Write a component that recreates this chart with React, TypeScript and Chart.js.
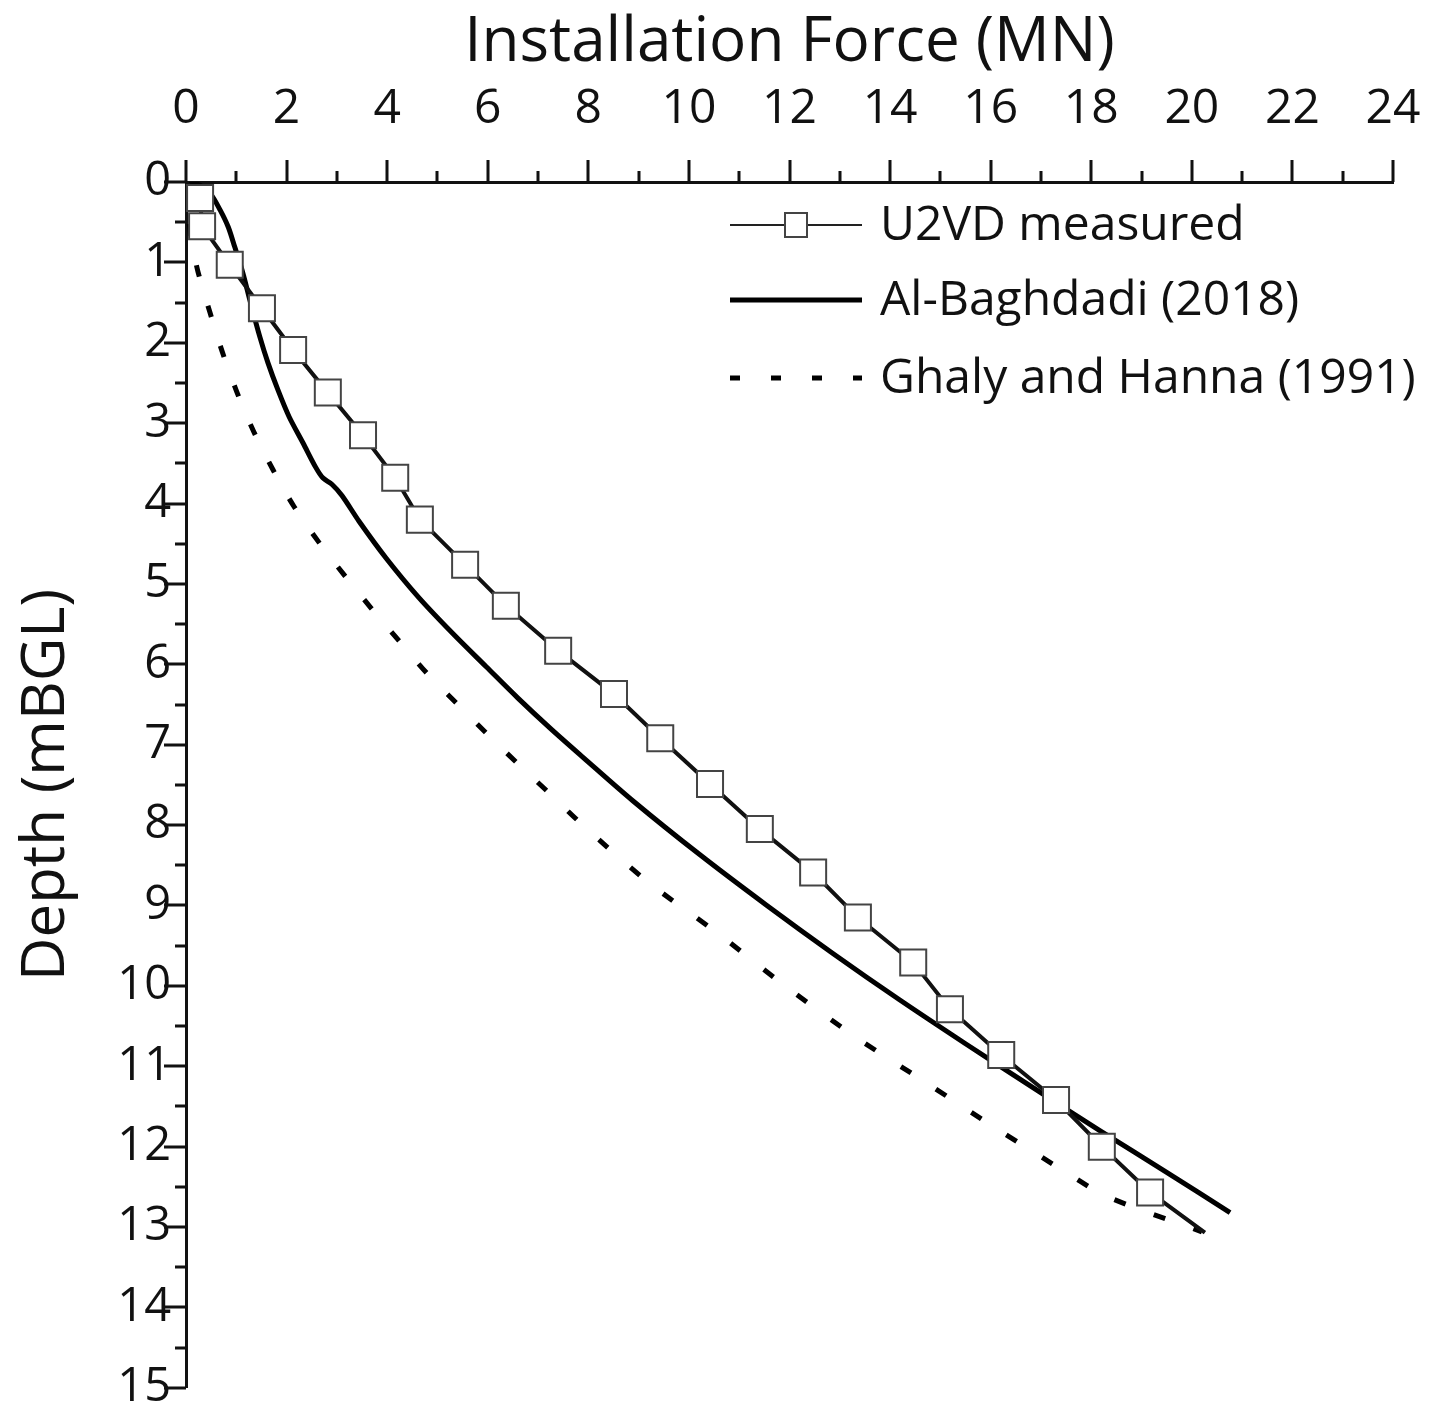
import React, { useEffect, useRef } from "react";
import { Chart, registerables } from "chart.js";

Chart.register(...registerables);

const FONT = "'Open Sans', 'Noto Sans', sans-serif";

// Axis ticks
const xTicks = [0, 2, 4, 6, 8, 10, 12, 14, 16, 18, 20, 22, 24];
const xMinorTicks = [1, 3, 5, 7, 9, 11, 13, 15, 17, 19, 21, 23];
const yTicks = [0, 1, 2, 3, 4, 5, 6, 7, 8, 9, 10, 11, 12, 13, 14, 15];
const yMinorTicks = [0.5, 1.5, 2.5, 3.5, 4.5, 5.5, 6.5, 7.5, 8.5, 9.5, 10.5, 11.5, 12.5, 13.5, 14.5];

const seriesNames = ["U2VD measured", "Al-Baghdadi (2018)", "Ghaly and Hanna (1991)"];

// U2VD measured (force MN, depth m); marker flag per point
const measuredForce = [0, 0.28, 0.32, 0.87, 1.51, 2.13, 2.82, 3.52, 4.16, 4.65, 5.55, 6.36, 7.4, 8.51, 9.43, 10.42, 11.41, 12.47, 13.36, 14.46, 15.19, 16.21, 17.3, 18.21, 19.17, 20.26];
const measuredDepth = [0, 0.2, 0.55, 1.03, 1.57, 2.09, 2.62, 3.15, 3.68, 4.2, 4.76, 5.27, 5.83, 6.37, 6.92, 7.49, 8.05, 8.59, 9.15, 9.71, 10.29, 10.86, 11.42, 12.0, 12.57, 13.07];
const measuredMarker = [0, 1, 1, 1, 1, 1, 1, 1, 1, 1, 1, 1, 1, 1, 1, 1, 1, 1, 1, 1, 1, 1, 1, 1, 1, 0];

// Al-Baghdadi (2018)
const baghdadiForce = [0, 0.28, 0.48, 0.68, 0.84, 0.97, 1.13, 1.27, 1.47, 1.63, 1.83, 2.05, 2.33, 2.58, 2.72, 2.9, 3.1, 3.44, 3.98, 4.63, 5.31, 5.97, 6.6, 7.25, 7.9, 8.89, 10.22, 11.55, 12.87, 14.18, 15.5, 16.85, 18.17, 19.5, 20.76];
const baghdadiDepth = [0, 0.04, 0.14, 0.35, 0.56, 0.81, 1.13, 1.47, 1.93, 2.25, 2.59, 2.92, 3.25, 3.55, 3.68, 3.76, 3.9, 4.22, 4.68, 5.17, 5.62, 6.03, 6.42, 6.8, 7.16, 7.7, 8.37, 9.0, 9.6, 10.17, 10.72, 11.27, 11.8, 12.32, 12.82];

// Ghaly and Hanna (1991)
const ghalyForce = [0, 0.03, 0.1, 0.24, 0.48, 0.72, 1.01, 1.35, 1.73, 2.15, 2.64, 3.16, 3.68, 4.24, 4.79, 5.39, 6.01, 6.62, 7.22, 7.89, 9.19, 10.56, 11.91, 13.3, 14.73, 16.15, 17.58, 18.31, 20.2];
const ghalyDepth = [0, 0.3, 0.7, 1.12, 1.63, 2.11, 2.61, 3.11, 3.58, 4.04, 4.48, 4.9, 5.3, 5.71, 6.11, 6.49, 6.88, 7.25, 7.6, 8.0, 8.71, 9.34, 10.0, 10.63, 11.21, 11.79, 12.35, 12.62, 13.06];

const toPoints = (xs: number[], ys: number[]) => xs.map((x, i) => ({ x, y: ys[i] }));

const INK = "#111111";
const MARKER_EDGE = "#444444";
const CLEAR = "rgba(0,0,0,0)";

const tickPlugin = {
  id: "customTicks",
  afterDraw(chart: any) {
    const { ctx, chartArea, scales } = chart;
    const sx = scales.x;
    const sy = scales.y;
    ctx.save();
    ctx.strokeStyle = INK;
    ctx.lineWidth = 3;
    ctx.lineCap = "butt";
    ctx.beginPath();
    xTicks.forEach((v) => {
      const p = Math.round(sx.getPixelForValue(v));
      ctx.moveTo(p, chartArea.top);
      ctx.lineTo(p, chartArea.top - 22);
    });
    xMinorTicks.forEach((v) => {
      const p = Math.round(sx.getPixelForValue(v));
      ctx.moveTo(p, chartArea.top);
      ctx.lineTo(p, chartArea.top - 11);
    });
    yTicks.forEach((v) => {
      const p = Math.round(sy.getPixelForValue(v));
      ctx.moveTo(chartArea.left, p);
      ctx.lineTo(chartArea.left - 22, p);
    });
    yMinorTicks.forEach((v) => {
      const p = Math.round(sy.getPixelForValue(v));
      ctx.moveTo(chartArea.left, p);
      ctx.lineTo(chartArea.left - 11, p);
    });
    ctx.stroke();
    ctx.restore();
  },
};

const legendPlugin = {
  id: "customLegend",
  afterDraw(chart: any) {
    const { ctx, chartArea } = chart;
    const x0 = chartArea.left + 544;
    const x1 = x0 + 132;
    const tx = x1 + 18;
    const rows = [chartArea.top + 43, chartArea.top + 118, chartArea.top + 196];
    ctx.save();
    // row 1: thin line with square marker
    ctx.strokeStyle = "#222";
    ctx.lineWidth = 2;
    ctx.beginPath();
    ctx.moveTo(x0, rows[0]);
    ctx.lineTo(x1, rows[0]);
    ctx.stroke();
    const mx = (x0 + x1) / 2;
    ctx.fillStyle = "#fff";
    ctx.fillRect(mx - 11, rows[0] - 12, 22, 24);
    ctx.strokeStyle = MARKER_EDGE;
    ctx.lineWidth = 2;
    ctx.strokeRect(mx - 11, rows[0] - 12, 22, 24);
    // row 2: thick solid
    ctx.strokeStyle = "#000";
    ctx.lineWidth = 5;
    ctx.beginPath();
    ctx.moveTo(x0, rows[1]);
    ctx.lineTo(x1, rows[1]);
    ctx.stroke();
    // row 3: dashed
    ctx.setLineDash([10, 31]);
    ctx.beginPath();
    ctx.moveTo(x0, rows[2]);
    ctx.lineTo(x1, rows[2]);
    ctx.stroke();
    ctx.setLineDash([]);
    // labels
    ctx.fillStyle = INK;
    ctx.font = `48px ${FONT}`;
    ctx.textAlign = "left";
    ctx.textBaseline = "middle";
    seriesNames.forEach((name, i) => ctx.fillText(name, tx, rows[i] + 1));
    ctx.restore();
  },
};

export default function App() {
  const ref = useRef<HTMLCanvasElement>(null);

  useEffect(() => {
    if (!ref.current) return;
    const chart = new Chart(ref.current, {
      type: "scatter",
      data: {
        datasets: [
          {
            label: seriesNames[0],
            data: toPoints(measuredForce, measuredDepth),
            showLine: true,
            borderColor: "#111",
            borderWidth: 4,
            pointStyle: "rect",
            pointRadius: measuredMarker.map((m) => (m ? 18.4 : 0)),
            pointBackgroundColor: "#fff",
            pointBorderColor: MARKER_EDGE,
            pointBorderWidth: 2,
            tension: 0,
          },
          {
            label: seriesNames[1],
            data: toPoints(baghdadiForce, baghdadiDepth),
            showLine: true,
            borderColor: "#000",
            borderWidth: 5,
            pointRadius: 0,
            tension: 0.3,
          },
          {
            label: seriesNames[2],
            data: toPoints(ghalyForce, ghalyDepth),
            showLine: true,
            borderColor: "#000",
            borderWidth: 5,
            borderDash: [12, 30],
            pointRadius: 0,
            tension: 0.3,
          },
        ],
      },
      options: {
        responsive: false,
        animation: false,
        events: [],
        layout: { padding: { left: 0, top: 0, right: 36, bottom: 28 } },
        plugins: {
          legend: { display: false },
          tooltip: { enabled: false },
        },
        scales: {
          x: {
            type: "linear",
            position: "top",
            min: 0,
            max: 24,
            afterBuildTicks: (scale: any) => {
              scale.ticks = xTicks.map((v) => ({ value: v }));
            },
            afterFit: (scale: any) => {
              scale.height = 182;
            },
            grid: { display: true, drawOnChartArea: false, drawTicks: true, tickLength: 44, color: CLEAR, tickColor: CLEAR },
            border: { display: true, color: INK, width: 3 },
            ticks: {
              padding: 0,
              color: INK,
              font: { family: FONT, size: 48 },
              maxRotation: 0,
              autoSkip: false,
              callback: (v: any) => String(v),
            },
            title: {
              display: true,
              text: "Installation Force (MN)",
              color: INK,
              font: { family: FONT, size: 62 },
              padding: { top: 6, bottom: 0 },
            },
          },
          y: {
            type: "linear",
            position: "left",
            min: 0,
            max: 15,
            reverse: true,
            afterBuildTicks: (scale: any) => {
              scale.ticks = yTicks.map((v) => ({ value: v }));
            },
            afterFit: (scale: any) => {
              scale.width = 186;
            },
            grid: { display: true, drawOnChartArea: false, drawTicks: true, tickLength: 15, color: CLEAR, tickColor: CLEAR },
            border: { display: true, color: INK, width: 3 },
            ticks: {
              padding: 0,
              color: INK,
              font: { family: FONT, size: 47 },
              autoSkip: false,
              callback: (v: any) => String(v),
            },
            title: {
              display: true,
              text: "Depth (mBGL)",
              color: INK,
              font: { family: FONT, size: 60 },
              padding: { top: 11, bottom: 0 },
            },
          },
        },
      },
      plugins: [tickPlugin, legendPlugin],
    } as any);
    return () => chart.destroy();
  }, []);

  return (
    <div style={{ position: "absolute", left: 0, top: 0, width: 1429, height: 1416, background: "#fff" }}>
      <canvas ref={ref} width={1429} height={1416} style={{ display: "block", width: 1429, height: 1416 }} />
    </div>
  );
}
